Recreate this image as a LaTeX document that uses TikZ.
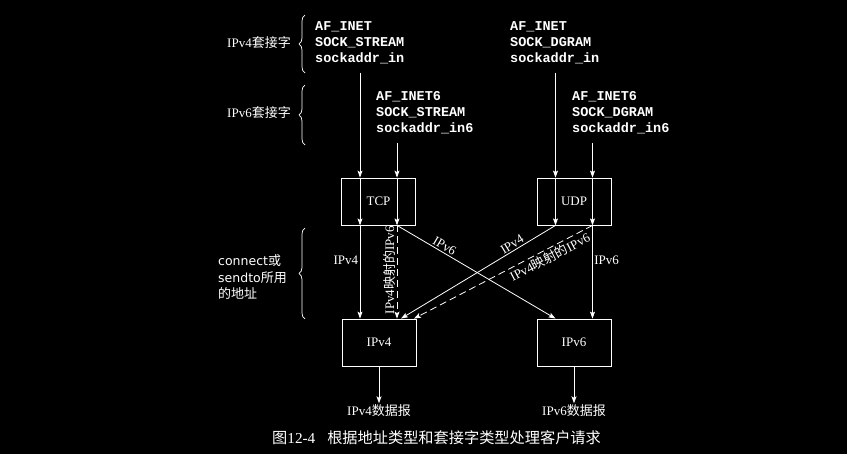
\documentclass[tikz,border=0pt]{standalone}
\usepackage{fontspec}
\setmainfont{Liberation Serif}
\setmonofont{Liberation Mono}
\newfontfamily\cjk{Noto Sans CJK SC}
\newfontfamily\dejavu{DejaVu Sans}
\newcommand\zh[1]{{\cjk #1}}
\usetikzlibrary{arrows.meta,decorations.pathreplacing}
\tikzset{
  protobox/.style = {draw=white, line width=0.8pt, minimum width=74pt, minimum height=47pt, inner sep=0pt, text=white, font=\fontsize{13}{15}\selectfont},
  fam/.style = {text=white, font=\fontsize{13.5}{16}\selectfont\ttfamily\bfseries, align=left, inner sep=0pt},
  lbl/.style = {text=white, font=\fontsize{13}{16.5}\selectfont, inner sep=1.5pt},
  arr/.style = {draw=white, line width=0.8pt, -{Stealth[length=7pt,width=5pt,inset=1.5pt]}},
  maparr/.style = {arr, dash pattern=on 7pt off 4pt},
  grp/.style = {draw=white, line width=0.7pt, decorate, decoration={brace, amplitude=6pt}},
}

\begin{document}
\begin{tikzpicture}[x=1pt, y=-1pt]
\fill[black] (0,0) rectangle (847,454);
\useasboundingbox (0,0) rectangle (847,454);

% socket parameters
\node [fam, anchor=base west] (tcp4) at (315,63) {AF\_INET\\SOCK\_STREAM\\sockaddr\_in};
\node [fam, anchor=base west] (udp4) at (510,63) {AF\_INET\\SOCK\_DGRAM\\sockaddr\_in};
\node [fam, anchor=base west] (tcp6) at (376,133) {AF\_INET6\\SOCK\_STREAM\\sockaddr\_in6};
\node [fam, anchor=base west] (udp6) at (572,133) {AF\_INET6\\SOCK\_DGRAM\\sockaddr\_in6};
\coordinate (tcp4out) at (360,73);
\coordinate (tcp6out) at (397,143);
\coordinate (udp4out) at (555.5,73);
\coordinate (udp6out) at (592.5,143);

% braces on the left
\node [lbl, anchor=east, inner sep=0pt] (v4sock) at (291,43) {IPv4\zh{套接字}};
\node [lbl, anchor=east, inner sep=0pt] (v6sock) at (291,113) {IPv6\zh{套接字}};
\node [lbl, anchor=west, align=left, inner sep=0pt] (addr) at (218,277) {{\dejavu\fontsize{12.5}{16.5}\selectfont connect}\zh{或}\\{\dejavu\fontsize{12.5}{16.5}\selectfont sendto}\zh{所用}\\\zh{的地址}};
\draw[grp] (305,73) -- (305,15);
\draw[grp] (305,145) -- (305,85);
\draw[grp] (305,319) -- (305,228);

% protocol boxes
\node [protobox] (tcp) at (378.5,201.5) {TCP};
\node [protobox] (udp) at (574,201.5) {UDP};
\node [protobox] (ipv4) at (379,342.5) {IPv4};
\node [protobox] (ipv6) at (574,342.5) {IPv6};

\draw[arr] (tcp4out) -- (tcp4out |- tcp.north);
\draw[arr] (tcp4out |- tcp.north) -- (tcp4out |- tcp.south);
\draw[arr] (tcp6out) -- (tcp6out |- tcp.north);
\draw[arr] (tcp6out |- tcp.north) -- (tcp6out |- tcp.south);
\draw[arr] (udp4out) -- (udp4out |- udp.north);
\draw[arr] (udp4out |- udp.north) -- (udp4out |- udp.south);
\draw[arr] (udp6out) -- (udp6out |- udp.north);
\draw[arr] (udp6out |- udp.north) -- (udp6out |- udp.south);

\draw[arr] (tcp4out |- tcp.south) -- node [lbl, left, pos=0.37] {IPv4} (tcp4out |- ipv4.north);
\draw[maparr] (tcp6out |- tcp.south) -- node [lbl, rotate=90, anchor=south, pos=0.48] {IPv4\zh{映射的}IPv6} (tcp6out |- ipv4.north);
\draw[arr] (tcp6out |- tcp.south) -- node [lbl, sloped, above, pos=0.28] {IPv6} (udp4out |- ipv6.north);
\draw[arr] (udp4out |- udp.south) -- node [lbl, sloped, above, pos=0.26] {IPv4} ([xshift=22pt]ipv4.north);
\draw[maparr] (udp6out |- udp.south) -- node [lbl, sloped, below, pos=0.26] {IPv4\zh{映射的}IPv6} ([xshift=35pt]ipv4.north);
\draw[arr] (udp6out |- udp.south) -- node [lbl, right, pos=0.37] {IPv6} (udp6out |- ipv6.north);

% datagrams
\node [lbl] (v4dg) at (379,411) {IPv4\zh{数据报}};
\node [lbl] (v6dg) at (574,411) {IPv6\zh{数据报}};
\draw[arr] (ipv4) -- (v4dg);
\draw[arr] (ipv6) -- (v6dg);

% caption
\node [text=white, anchor=west, inner sep=0pt, font=\fontsize{15.2}{18}\selectfont] (cap) at (272,437.5) {\zh{图}12-4\hspace{12pt}\zh{根据地址类型和套接字类型处理客户请求}};
\end{tikzpicture}
\end{document}
